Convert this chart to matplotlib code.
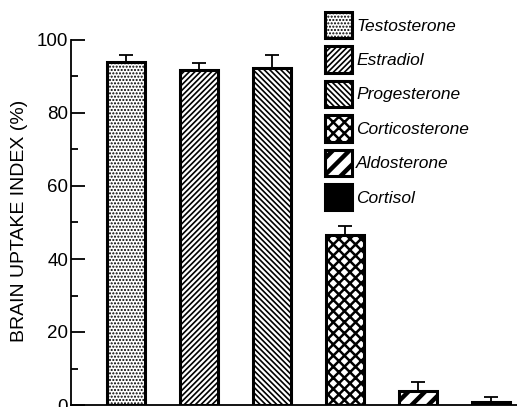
import numpy as np
import matplotlib.pyplot as plt
from matplotlib.patches import Patch

plt.rcParams['font.family'] = ['Liberation Sans', 'DejaVu Sans']

# data
steroids = ['Testosterone', 'Estradiol', 'Progesterone',
            'Corticosterone', 'Aldosterone', 'Cortisol']
bui = [94.0, 91.8, 92.2, 46.6, 3.8, 0.9]
sem = [1.9, 1.8, 3.7, 2.5, 2.5, 1.4]
hatches = ['.....', '//////', '\\\\\\\\\\\\', 'xxx', '//', '']
hatch_lw = [1.0, 1.2, 1.2, 1.8, 3.2, 1.0]
faces = ['white', 'white', 'white', 'white', 'white', 'black']
yticks = [0, 20, 40, 60, 80, 100]

W, H = 517, 407
fig = plt.figure(figsize=(W / 100, H / 100), dpi=100)
ax = fig.add_axes([71 / W, 2 / H, 1 - 71 / W, 365 / H])


def set_hlw(p, lw):
    try:
        p.set_hatch_linewidth(lw)
    except AttributeError:
        p._hatch_linewidth = lw


x = np.arange(len(steroids))
bars = ax.bar(x, bui, width=0.51, color=faces, edgecolor='black',
              linewidth=2.2, zorder=2)
for b, h, lw in zip(bars, hatches, hatch_lw):
    b.set_hatch(h)
    set_hlw(b, lw)

ax.errorbar(x, bui, yerr=[np.zeros(len(sem)), sem], fmt='none',
            ecolor='black', elinewidth=1.3, capsize=5, capthick=1.3, zorder=1)

ax.set_xlim(-0.753, 5.356)
ax.set_ylim(0, 100)
ax.set_yticks(yticks)
ax.set_yticks([10, 30, 50, 70, 90], minor=True)
ax.tick_params(axis='y', which='major', direction='in', length=10, width=1.3,
               labelsize=13.5, pad=2)
ax.tick_params(axis='y', which='minor', direction='in', length=5, width=1.3)
ax.set_xticks([])
for s in ['top', 'right']:
    ax.spines[s].set_visible(False)
ax.spines['left'].set_linewidth(1.3)
ax.spines['bottom'].set_linewidth(1.3)

fig.text(20 / W, 1 - 221 / H, 'BRAIN UPTAKE INDEX (%)', rotation=90,
         ha='center', va='center', fontsize=14)

handles = [Patch(facecolor=f, edgecolor='black', hatch=h, linewidth=2.2)
           for f, h in zip(faces, hatches)]
leg = fig.legend(handles, steroids, loc='upper left',
                 bbox_to_anchor=(325 / W, 1 - 12 / H),
                 bbox_transform=fig.transFigure, frameon=False,
                 prop={'style': 'italic', 'size': 12.5},
                 handlelength=1.55, handleheight=1.95, labelspacing=0.47,
                 handletextpad=0.25, borderpad=0, borderaxespad=0)
for p, lw in zip(leg.legend_handles, hatch_lw):
    set_hlw(p, lw)

fig.savefig('out.png', dpi=100)
